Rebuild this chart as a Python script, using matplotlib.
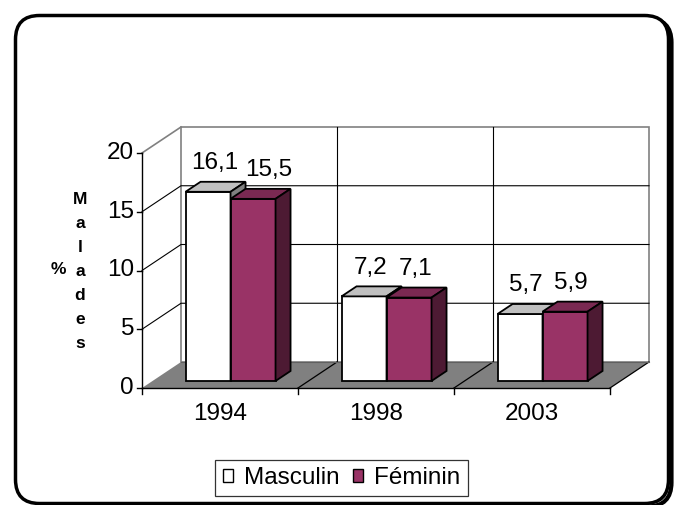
import matplotlib
matplotlib.use("Agg")
import matplotlib.pyplot as plt
from matplotlib.patches import Polygon, FancyBboxPatch, Patch

plt.rcParams['font.family'] = ['Liberation Sans', 'DejaVu Sans']

# ---- data ----
categories = ["1994", "1998", "2003"]
series_names = ["Masculin", "Féminin"]
masculin = [16.1, 7.2, 5.7]
feminin = [15.5, 7.1, 5.9]
value_labels_m = ["16,1", "7,2", "5,7"]
value_labels_f = ["15,5", "7,1", "5,9"]
yticks = [0, 5, 10, 15, 20]

# ---- style ----
front_colors = ["#FFFFFF", "#993366"]
top_colors = ["#C0C0C0", "#7A2952"]
side_colors = ["#808080", "#4D1A33"]
FS = 17.5

W_PX, H_PX = 675, 505
fig = plt.figure(figsize=(W_PX / 100, H_PX / 100), dpi=100)

# background axes in pixel coordinates for the rounded frame
bg = fig.add_axes([0, 0, 1, 1])
bg.set_xlim(0, W_PX)
bg.set_ylim(H_PX, 0)
bg.axis("off")
shadow = FancyBboxPatch((18.5, 18.5), 653, 488, boxstyle="round,pad=0,rounding_size=24",
                        fc="none", ec="black", lw=3.0)
frame = FancyBboxPatch((15.5, 15.5), 653, 488, boxstyle="round,pad=0,rounding_size=24",
                       fc="white", ec="black", lw=2.5)
bg.add_patch(shadow)
bg.add_patch(frame)

# main plotting axes: map data -> pixels
X0PX, CATPX, Y0PX, UNITPX = 142, 156, 388, 11.75
L, R, T, B = 30, 665, 60, 440
ax = fig.add_axes([L / W_PX, (H_PX - B) / H_PX, (R - L) / W_PX, (B - T) / H_PX])
ax.set_xlim((L - X0PX) / CATPX, (R - X0PX) / CATPX)
ax.set_ylim((Y0PX - B) / UNITPX, (Y0PX - T) / UNITPX)
ax.axis("off")
ax.patch.set_alpha(0)

n = len(categories)
ymax = max(yticks)
DX = 39 / CATPX
DY = 26 / UNITPX
grey = "#808080"

# back wall
ax.add_patch(Polygon([(DX, DY), (n + DX, DY), (n + DX, ymax + DY), (DX, ymax + DY)],
                     closed=True, fc="white", ec=grey, lw=1.2, zorder=1))
# left wall top edge
ax.plot([0, DX], [ymax, ymax + DY], color=grey, lw=1.2, zorder=2)
# gridlines
for yt in yticks[1:-1]:
    ax.plot([0, DX, n + DX], [yt, yt + DY, yt + DY], color="black", lw=0.8, zorder=2)
for i in range(1, n):
    ax.plot([i + DX, i + DX], [DY, ymax + DY], color="black", lw=0.8, zorder=2)
# floor
ax.add_patch(Polygon([(0, 0), (n, 0), (n + DX, DY), (DX, DY)], closed=True,
                     fc=grey, ec="none", zorder=3))
for i in range(1, n + 1):
    ax.plot([i, i + DX], [0, DY], color="black", lw=0.9, zorder=3)
ax.plot([DX, n + DX], [DY, DY], color="#606060", lw=0.8, zorder=3)

# axes lines and ticks
ax.plot([0, 0], [0, ymax], color="black", lw=1.0, zorder=4)
ax.plot([0, n], [0, 0], color="black", lw=1.0, zorder=4)
for yt in yticks:
    ax.plot([-5 / CATPX, 0], [yt, yt], color="black", lw=1.0, zorder=4)
    ax.text(-8 / CATPX, yt, str(yt), ha="right", va="center", fontsize=FS, zorder=5)
for i in range(n + 1):
    ax.plot([i, i], [0, -6 / UNITPX], color="black", lw=1.0, zorder=4)
for i, c in enumerate(categories):
    ax.text(i + 0.5, -26 / UNITPX, c, ha="center", va="center", fontsize=FS, zorder=5)

# bars
Z0, BD = 0.27, 0.385
BW = 0.2885
zx0, zy0 = Z0 * DX, Z0 * DY
bdx, bdy = BD * DX, BD * DY
series = [masculin, feminin]
labels = [value_labels_m, value_labels_f]
for i in range(n):
    for j, vals in enumerate(series):
        v = vals[i]
        xl = i + 0.5 - BW + j * BW + zx0
        xr = xl + BW
        yb = zy0
        yt = v + zy0
        z = 10 + i * 3 + j
        ax.add_patch(Polygon([(xl, yb), (xr, yb), (xr, yt), (xl, yt)], closed=True,
                             fc=front_colors[j], ec="black", lw=1.3, zorder=z,
                             joinstyle="miter"))
        ax.add_patch(Polygon([(xl, yt), (xr, yt), (xr + bdx, yt + bdy), (xl + bdx, yt + bdy)],
                             closed=True, fc=top_colors[j], ec="black", lw=1.3, zorder=z,
                             joinstyle="miter"))
        ax.add_patch(Polygon([(xr, yb), (xr + bdx, yb + bdy), (xr + bdx, yt + bdy), (xr, yt)],
                             closed=True, fc=side_colors[j], ec="black", lw=1.3, zorder=z,
                             joinstyle="miter"))
        dxl = 0.1 if (i == 0 and j == 1) else 0.04
        ax.text((xl + xr) / 2 + dxl, yt + bdy + 1.6, labels[j][i], ha="center",
                va="center", fontsize=FS, zorder=20)

# y-axis title (stacked)
ax.text((58 - X0PX) / CATPX, (Y0PX - 270) / UNITPX, "%", ha="center", va="center",
        fontsize=12.5, fontweight="bold")
ax.text((80 - X0PX) / CATPX, (Y0PX - 271) / UNITPX, "\n".join("Malades"), ha="center",
        va="center", fontsize=12.5, fontweight="bold", linespacing=1.75)

# legend
handles = [Patch(fc=front_colors[k], ec="black", lw=1.0) for k in range(2)]
leg = fig.legend(handles, series_names, loc="center", ncol=2,
                 bbox_to_anchor=(341.5 / W_PX, 1 - 478 / H_PX),
                 fontsize=FS, frameon=True, fancybox=False, edgecolor="black",
                 handlelength=0.42, handleheight=0.42, handletextpad=0.45,
                 columnspacing=0.55, borderpad=0.3, borderaxespad=0)
leg.get_frame().set_linewidth(0.9)

fig.savefig("out.png", dpi=100)
